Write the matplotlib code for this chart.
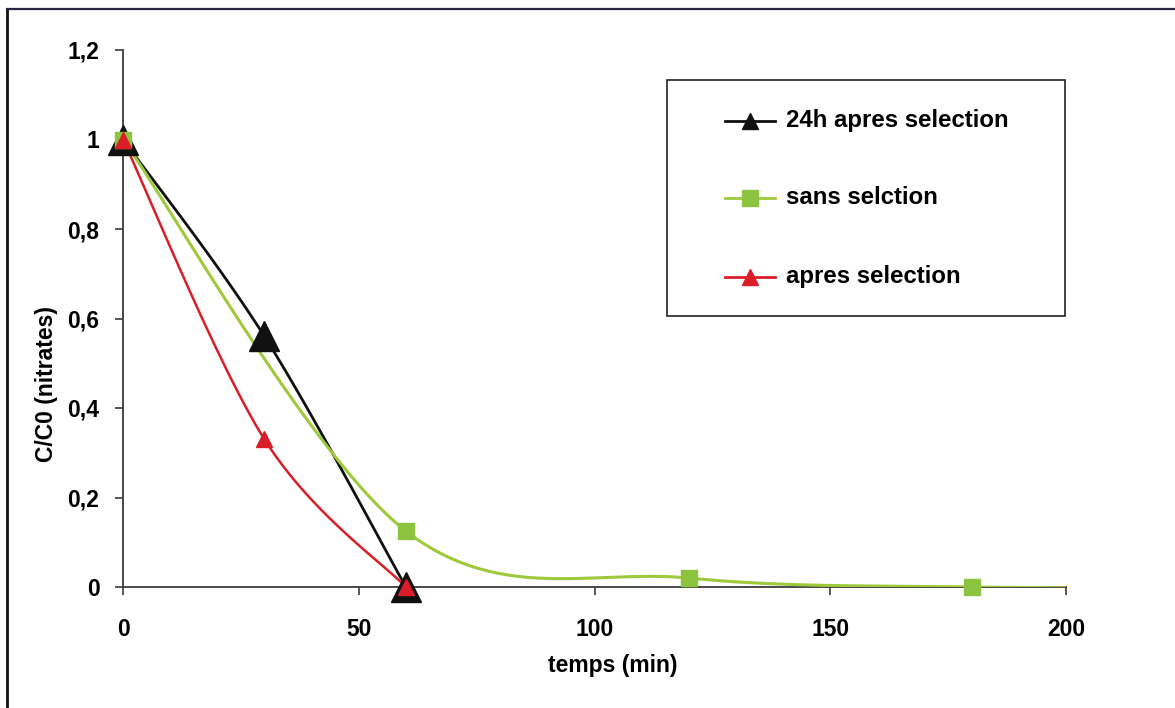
import numpy as np
import matplotlib
matplotlib.use("Agg")
import matplotlib.pyplot as plt
from matplotlib.lines import Line2D
from matplotlib.patches import Rectangle
from matplotlib.ticker import FuncFormatter

# Time (min) and relative nitrate concentration C/C0
t_24h = [0, 30, 60]
c_24h = [1.0, 0.56, 0.0]

t_sans = [0, 60, 120, 180, 240]
c_sans = [1.0, 0.125, 0.02, 0.0, 0.0]

t_apres = [0, 30, 60]
c_apres = [1.0, 0.33, 0.0]

labels = ["24h apres selection", "sans selction", "apres selection"]
x_ticks = [0, 50, 100, 150, 200]
y_ticks = [0, 0.2, 0.4, 0.6, 0.8, 1.0, 1.2]

FONT = "Liberation Sans"


def smooth(x, y, n=60):
    """Spreadsheet-style smoothed line: cubic Bezier through every point."""
    p = np.column_stack([x, y]).astype(float)
    pts = [p[0]]
    m = len(p)
    for i in range(m - 1):
        p0 = p[i - 1] if i > 0 else p[i]
        p1, p2 = p[i], p[i + 1]
        p3 = p[i + 2] if i + 2 < m else p[i + 1]
        c1 = p1 + (p2 - p0) / 6.0
        c2 = p2 - (p3 - p1) / 6.0
        s = np.linspace(0, 1, n)[1:, None]
        seg = ((1 - s) ** 3) * p1 + 3 * ((1 - s) ** 2) * s * c1 \
            + 3 * (1 - s) * s ** 2 * c2 + s ** 3 * p2
        pts.extend(seg)
    pts = np.array(pts)
    return pts[:, 0], pts[:, 1]


fig = plt.figure(figsize=(11.75, 7.08), dpi=100)
fig.patch.set_facecolor("white")
ax = fig.add_axes([123 / 1175, 1 - 587 / 708, (1066 - 123) / 1175, (587 - 50) / 708])

black = "#111111"
green_line = "#9DC93A"
green_mark = "#8CC43F"
red = "#D91E28"

series = [
    (t_24h, c_24h, black, black, "^", 21, 2.0),
    (t_sans, c_sans, green_line, green_mark, "s", 11, 2.2),
    (t_apres, c_apres, red, red, "^", 11, 1.8),
]
for x, y, lc, mc, mk, ms, lw in series:
    sx, sy = smooth(x, y)
    ax.plot(sx, sy, color=lc, lw=lw, solid_capstyle="round", zorder=3)
    vis = [i for i, xi in enumerate(x) if xi <= 200]
    ax.plot([x[i] for i in vis], [y[i] for i in vis], linestyle="none", marker=mk,
            markersize=ms, markerfacecolor=mc, markeredgecolor=mc, zorder=4,
            clip_on=False)

ax.set_xlim(0, 200)
ax.set_ylim(0, 1.2)
ax.set_xticks(x_ticks)
ax.set_yticks(y_ticks)
ax.yaxis.set_major_formatter(FuncFormatter(lambda v, _: f"{v:g}".replace(".", ",")))

for side in ("top", "right"):
    ax.spines[side].set_visible(False)
for side in ("left", "bottom"):
    ax.spines[side].set_color("#3a3a3a")
    ax.spines[side].set_linewidth(1.3)
    ax.spines[side].set_zorder(2)

ax.tick_params(axis="both", direction="out", length=6, width=1.2, color="#3a3a3a")
ax.tick_params(axis="x", pad=16)
ax.tick_params(axis="y", pad=11)
for lab in ax.get_xticklabels() + ax.get_yticklabels():
    lab.set_fontfamily(FONT)
    lab.set_fontweight("bold")
    lab.set_fontsize(16.5)

ax.set_xlabel("temps (min)", fontfamily=FONT, fontweight="bold", fontsize=16.5)
ax.set_ylabel("C/C0 (nitrates)", fontfamily=FONT, fontweight="bold", fontsize=16.5)
ax.xaxis.set_label_coords(0.519, -0.124)
ax.yaxis.set_label_coords(-0.069, 0.378)

# Legend box
W, H = 1175.0, 708.0
fig.add_artist(Rectangle((667 / W, 1 - 316 / H), (1065 - 667) / W, (316 - 80) / H,
                         transform=fig.transFigure, facecolor="white",
                         edgecolor="#222222", lw=1.2, zorder=5))
legend_rows = [121, 198, 277]
legend_style = [(black, black, "^", 12), (green_line, green_mark, "s", 11), (red, red, "^", 12)]
for yy, lab, (lc, mc, mk, ms) in zip(legend_rows, labels, legend_style):
    yf = 1 - yy / H
    fig.add_artist(Line2D([725 / W, 775 / W], [yf, yf], transform=fig.transFigure,
                          color=lc, lw=2, zorder=6))
    fig.add_artist(Line2D([750 / W], [yf], transform=fig.transFigure, marker=mk,
                          markersize=ms, markerfacecolor=mc, markeredgecolor=mc,
                          linestyle="none", zorder=7))
    fig.text(786 / W, yf, lab, fontfamily=FONT, fontweight="bold", fontsize=17.3,
             va="center", ha="left", zorder=7)

# Outer frame lines
fig.add_artist(Line2D([7 / W, 7 / W], [0, 1 - 9 / H], transform=fig.transFigure,
                      color="#111111", lw=2.0))
fig.add_artist(Line2D([7 / W, 1], [1 - 9 / H, 1 - 9 / H], transform=fig.transFigure,
                      color="#2a2240", lw=1.6))

fig.savefig("out.png", dpi=100)
